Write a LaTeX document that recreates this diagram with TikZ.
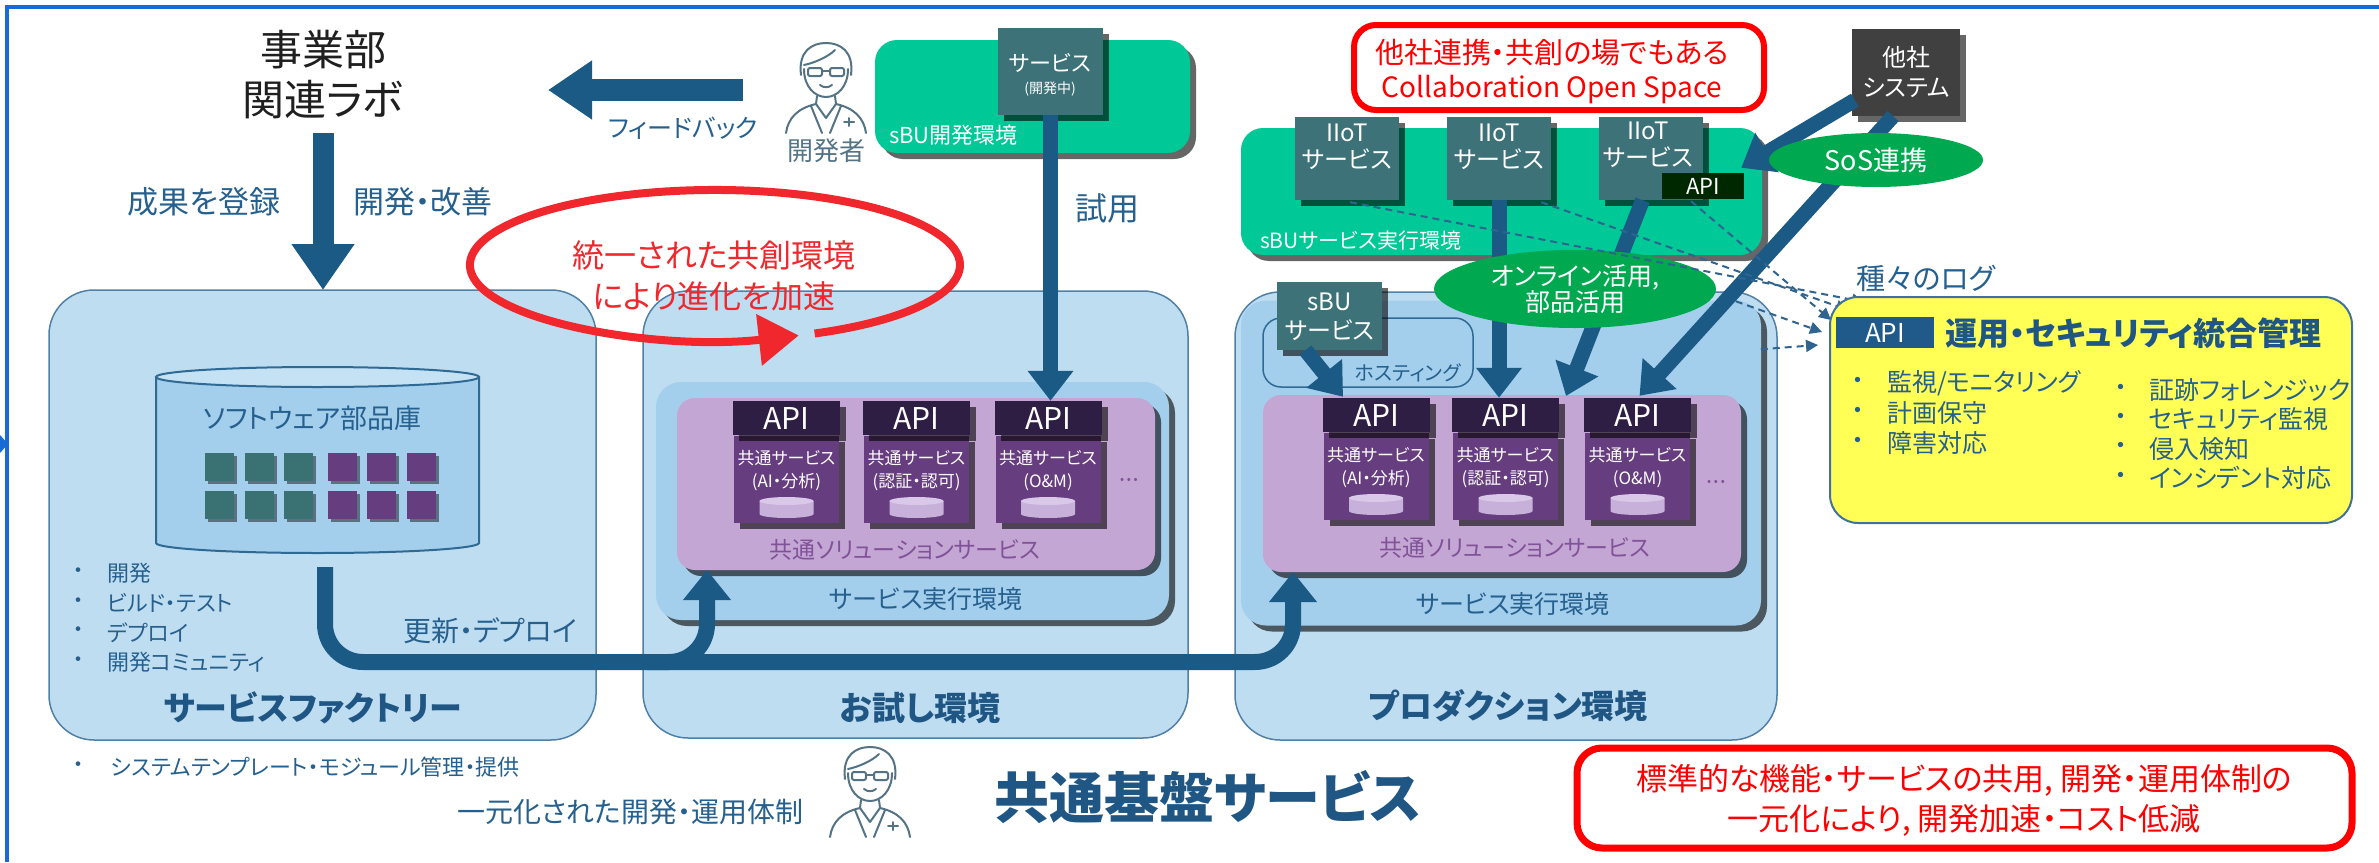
\documentclass[tikz,border=0pt]{standalone}
\usepackage{fontspec}
\setmainfont{Noto Sans CJK JP}[RawFeature=+palt]
\usetikzlibrary{arrows.meta,shapes.geometric,shadows,calc}

\newcommand\fz[2]{\fontsize{#1}{#2}\selectfont}

\definecolor{frameblue}{RGB}{22,108,212}
\definecolor{navy}{RGB}{28,90,134}
\definecolor{navytext}{RGB}{38,96,142}
\definecolor{titleblue}{RGB}{31,86,132}
\definecolor{lightbox}{RGB}{191,221,241}
\definecolor{boxedge}{RGB}{80,128,166}
\definecolor{envblue}{RGB}{163,206,236}
\definecolor{solpurple}{RGB}{196,166,212}
\definecolor{solpurpletext}{RGB}{128,82,152}
\definecolor{apidark}{RGB}{46,30,68}
\definecolor{svcpurple}{RGB}{102,61,126}
\definecolor{cylpurple}{RGB}{199,176,218}
\definecolor{cylpurpletop}{RGB}{217,200,232}
\definecolor{tealbox}{RGB}{60,114,120}
\definecolor{envgreen}{RGB}{0,200,150}
\definecolor{ovalgreen}{RGB}{0,168,80}
\definecolor{darkgraybox}{RGB}{64,64,64}
\definecolor{apigreen}{RGB}{0,40,0}
\definecolor{noteyellow}{RGB}{255,255,85}
\definecolor{yellowedge}{RGB}{65,113,156}
\definecolor{apiblue}{RGB}{31,90,138}
\definecolor{alertred}{RGB}{255,0,0}
\definecolor{loopred}{RGB}{240,40,45}
\definecolor{persongray}{RGB}{84,116,134}
\definecolor{cylblue}{RGB}{163,206,236}
\definecolor{cyltop}{RGB}{197,226,245}
\definecolor{cyledge}{RGB}{47,106,149}
\definecolor{squareteal}{RGB}{58,114,116}
\definecolor{squarepurple}{RGB}{102,61,126}
\definecolor{dashblue}{RGB}{47,100,145}

\tikzset{
  txt/.style={inner sep=0pt, outer sep=0pt, align=center},
  dropsh/.style={drop shadow={shadow xshift=6pt, shadow yshift=-6pt, opacity=0.6, fill=black}},
  smallsh/.style={drop shadow={shadow xshift=3pt, shadow yshift=-3pt, opacity=0.45, fill=black}},
  platform/.style={draw=boxedge, line width=1.5pt, fill=lightbox, rounded corners=45pt, inner sep=0pt},
  boxtitle/.style={txt, font=\fz{33}{40}\bfseries, text=titleblue},
  envbox/.style={fill=envblue, rounded corners=25pt, inner sep=0pt, dropsh},
  envlabel/.style={txt, font=\fz{25}{28}, text=navytext},
  solbox/.style={fill=solpurple, rounded corners=18pt, inner sep=0pt, dropsh},
  sollabel/.style={txt, font=\fz{23}{26}, text=solpurpletext},
  svcbox/.style={fill=svcpurple, minimum width=105pt, minimum height=87pt, inner sep=0pt, dropsh},
  apibox/.style={fill=apidark, minimum width=107pt, minimum height=34pt, inner sep=0pt, text=white, font=\fz{30}{30}, dropsh},
  svctext/.style={txt, text=white, font=\fz{17}{23}},
  tealsvc/.style={fill=tealbox, inner sep=0pt, dropsh},
  greenenv/.style={fill=envgreen, rounded corners=22pt, inner sep=0pt, dropsh},
  whitelabel/.style={txt, text=white},
  redbox/.style={draw=alertred, line width=6pt, fill=white, rounded corners=22pt, inner sep=0pt},
  bigarrow/.style={draw=navy, line width=22pt, -{Triangle[width=56pt,length=44pt]}},
  svcarrow/.style={draw=navy, line width=15pt, -{Triangle[width=44pt,length=30pt]}},
  deploy/.style={draw=navy, line width=16pt, rounded corners=38pt},
  dashlog/.style={draw=dashblue, line width=2pt, dash pattern=on 7pt off 5pt, -{Triangle[width=12pt,length=12pt]}},
  navylabel/.style={txt, text=navytext},
  bulletlabel/.style={txt, anchor=west, text=navytext},
  devicon/.pic={
    \begin{scope}[persongray, line width=2pt, line cap=round, line join=round]
      % face and hair
      \draw (-22,26) .. controls (-22,44) and (-11,54) .. (0,54) .. controls (11,54) and (22,44) .. (22,26);
      \draw (-25,32) .. controls (-28,8) and (-14,0) .. (0,0) .. controls (14,0) and (28,8) .. (25,32);
      \draw (-22,22) .. controls (-12,20) and (2,14) .. (9,7);
      % glasses
      \draw[rounded corners=2pt] (-18,25) rectangle (-4,33);
      \draw[rounded corners=2pt] (4,25) rectangle (18,33);
      \draw (-4,28) -- (4,28);
      % smile
      \draw (-6,42) .. controls (-2,45) and (2,45) .. (6,42);
      % neck and shoulders
      \draw (-9,53) -- (-10,61) .. controls (-28,65) and (-38,75) .. (-40,90);
      \draw (9,53) -- (10,61) .. controls (28,65) and (38,75) .. (40,90);
      % collar, lapels and pen
      \draw (-10,61) -- (0,75) -- (10,61);
      \draw (-15,63) -- (-4,90);
      \draw (15,63) -- (4,90);
      \draw (18,79) -- (28,79);
      \draw (23,75) -- (23,83);
    \end{scope}
  }
}

% small purple data cylinder: centre x, top y
\newcommand\minicyl[2]{%
  \fill[cylpurple] (#1-27,#2+4) -- (#1-27,#2+17)
    arc[start angle=180, end angle=0, x radius=27, y radius=4] -- (#1+27,#2+4) -- cycle;
  \fill[cylpurpletop] (#1,#2+4) ellipse [x radius=27, y radius=4];
}

% API label with its common service below: name, centre x, top y, second text line
\newcommand\apiunit[4]{%
  \node[svcbox] (#1svc) at (#2,#3+78.5) {};
  \node[apibox] (#1) at (#2,#3+17) {API};
  \node[svctext] (#1txt) at (#2,#3+69.5) {共通サービス\\#4};
  \minicyl{#2}{#3+96}
}

\begin{document}
\begin{tikzpicture}[x=1pt,y=-1pt]
\useasboundingbox (0,0) rectangle (2379,862);
\fill[white] (0,0) rectangle (2379,862);

% outer frame
\draw[frameblue, line width=4pt] (2379,7) -- (7,7) -- (7,862);
\fill[frameblue] (0,435) -- (8,444) -- (0,453) -- cycle;

% ---------- three platforms ----------
\node[platform, minimum width=547pt, minimum height=450pt] (factory) at (322.5,515) {};
\node[platform, minimum width=545pt, minimum height=447pt] (trial) at (915.5,514.5) {};
\node[platform, minimum width=542pt, minimum height=448pt] (prod) at (1506,516) {};

\node[boxtitle] (factoryT) at (313,708) {サービスファクトリー};
\node[boxtitle] (trialT) at (920,708) {お試し環境};
\node[boxtitle] (prodT) at (1508,706) {プロダクション環境};

% software parts repository
\fill[cylblue] (156,377) -- (156,543) arc[start angle=180, end angle=0, x radius=161.5, y radius=10] -- (479,377) -- cycle;
\draw[cyledge, line width=2pt] (156,377) -- (156,543) arc[start angle=180, end angle=0, x radius=161.5, y radius=10] -- (479,377);
\filldraw[fill=cyltop, draw=cyledge, line width=2pt] (317.5,377) ellipse [x radius=161.5, y radius=10];
\node[navylabel, font=\fz{27}{30}] (repoL) at (312,418) {ソフトウェア部品庫};
\foreach \x [count=\i] in {219,259,298} {
  \node[fill=squareteal, minimum width=29pt, minimum height=28pt, inner sep=0pt, smallsh] (sqa\i) at (\x,467) {};
  \node[fill=squareteal, minimum width=29pt, minimum height=28pt, inner sep=0pt, smallsh] (sqb\i) at (\x,505) {};
}
\foreach \x [count=\i] in {342.5,381.5,421.5} {
  \node[fill=squarepurple, minimum width=29pt, minimum height=28pt, inner sep=0pt, smallsh] (sqc\i) at (\x,467) {};
  \node[fill=squarepurple, minimum width=29pt, minimum height=28pt, inner sep=0pt, smallsh] (sqd\i) at (\x,505) {};
}

% factory activities
\foreach \t [count=\i] in {開発,ビルド・テスト,デプロイ,開発コミュニティ} {
  \node[navylabel, font=\fz{22}{24}] (fb\i) at (78,{573+29.7*(\i-1)}) {・};
  \node[bulletlabel, font=\fz{22}{24}] (ft\i) at (107,{573+29.7*(\i-1)}) {\t};
}

% ---------- trial environment ----------
\node[envbox, minimum width=513pt, minimum height=238pt] (trialEnv) at (912.5,501) {};
\node[envlabel] (trialEnvL) at (926,599) {サービス実行環境};
\node[solbox, minimum width=478pt, minimum height=172pt] (trialSol) at (916,484) {};
\node[sollabel] (trialSolL) at (905,550) {共通ソリューションサービス};
\apiunit{tA1}{786.5}{401}{(AI・分析)}
\apiunit{tA2}{916.5}{401}{(認証・認可)}
\apiunit{tA3}{1048}{401}{(O\&M)}
\node[txt, font=\fz{12}{12}, text=solpurpletext] (tDots) at (1129,481) {• • •};

% ---------- production environment ----------
\node[envbox, minimum width=520pt, minimum height=325pt] (prodEnv) at (1501,463) {};
\node[envlabel] (prodEnvL) at (1513,604) {サービス実行環境};
\node[draw=cyledge, line width=1.5pt, rounded corners=18pt, minimum width=210pt, minimum height=69pt, inner sep=0pt] (hosting) at (1368,352.5) {};
\node[navylabel, font=\fz{20}{24}] (hostingL) at (1408,373) {ホスティング};
\node[solbox, minimum width=478pt, minimum height=177pt] (prodSol) at (1502,483.5) {};
\node[sollabel] (prodSolL) at (1515,548) {共通ソリューションサービス};
\apiunit{pA1}{1376}{398}{(AI・分析)}
\apiunit{pA2}{1505.5}{398}{(認証・認可)}
\apiunit{pA3}{1637.5}{398}{(O\&M)}
\node[txt, font=\fz{12}{12}, text=solpurpletext] (pDots) at (1716,483) {• • •};

% ---------- update / deploy pipeline ----------
\coordinate (repoOut) at (325,567);
\coordinate (pipe) at (0,662);
\coordinate (trialIn) at (707,570);
\coordinate (prodIn) at (1293,572);
\draw[deploy, -{Triangle[width=46pt,length=30pt]}] (repoOut) -- (repoOut |- pipe) -- (prodIn |- pipe) -- (prodIn);
\draw[deploy, -{Triangle[width=46pt,length=30pt]}] ($(trialIn |- pipe)+(-60,0)$) -- (trialIn |- pipe) -- (trialIn);
\node[navylabel, font=\fz{28}{30}] (deployL) at (490,631) {更新・デプロイ};

% ---------- business unit and feedback ----------
\node[txt, font=\fz{42}{50}, text=black!88] (bizlab) at (323,75) {事業部\\関連ラボ};
\coordinate (fbFrom) at (743,90);
\coordinate (fbTo) at (548,90);
\draw[bigarrow] (fbFrom) -- (fbTo);
\node[navylabel, font=\fz{25}{28}] (fbL) at (683,128) {フィードバック};
\coordinate (regFrom) at (323,133);
\coordinate (regTo) at (323,290);
\draw[draw=navy, line width=21pt, -{Triangle[width=60pt,length=46pt]}] (regFrom) -- (regTo);
\node[navylabel, font=\fz{31}{34}] (regL) at (204,202) {成果を登録};
\node[navylabel, font=\fz{31}{34}] (impL) at (423,202) {開発・改善};

\pic at (826,43) {devicon};
\node[txt, font=\fz{26}{28}, text=persongray] (devL) at (826,151) {開発者};

% ---------- sBU development environment ----------
\node[greenenv, minimum width=315pt, minimum height=113pt] (devEnv) at (1032.5,96.5) {};
\node[whitelabel, anchor=west, font=\fz{22}{24}] (devEnvL) at (889,135) {sBU開発環境};
\node[tealsvc, minimum width=105pt, minimum height=87pt] (devSvc) at (1050.5,71.5) {};
\node[whitelabel, font=\fz{22}{24}] (devSvcL) at (1050,63) {サービス};
\node[whitelabel, font=\fz{14}{16}] (devSvcS) at (1050,89) {(開発中)};
\node[navylabel, font=\fz{32}{34}] (tryL) at (1107,208) {試用};

% ---------- collaboration space ----------
\node[redbox, minimum width=410pt, minimum height=85pt] (collab) at (1559,67.5) {};
\node[txt, text=alertred, font=\fz{28}{34}] (collabL) at (1552,72) {{\fz{29}{34}他社連携・共創の場でもある}\\Collaboration Open Space};

\node[greenenv, minimum width=521pt, minimum height=127pt] (sbuEnv) at (1501.5,191.5) {};
\node[whitelabel, anchor=west, font=\fz{21}{24}] (sbuEnvL) at (1260,241) {sBUサービス実行環境};
\node[tealsvc, minimum width=104pt, minimum height=83pt] (iot1) at (1347,158.5) {};
\node[tealsvc, minimum width=104pt, minimum height=83pt] (iot2) at (1499,158.5) {};
\node[tealsvc, minimum width=104pt, minimum height=83pt] (iot3) at (1650.5,158.5) {};
\node[whitelabel, font=\fz{24}{27}] (iot1L) at (1347,147) {IIoT\\サービス};
\node[whitelabel, font=\fz{24}{27}] (iot2L) at (1499,147) {IIoT\\サービス};
\node[whitelabel, font=\fz{24}{27}] (iot3L) at (1648,145) {IIoT\\サービス};
\node[fill=apigreen, text=white, font=\fz{22}{22}, minimum width=82pt, minimum height=26pt, inner sep=0pt] (iotApi) at (1703,186) {API};

\node[fill=darkgraybox, minimum width=108pt, minimum height=87pt, inner sep=0pt, dropsh] (tasha) at (1906,72.5) {};
\node[whitelabel, font=\fz{24}{30}] (tashaL) at (1906,72) {他社\\システム};

\node[tealsvc, minimum width=105pt, minimum height=68pt] (sbuSvc) at (1329.5,316) {};
\node[whitelabel, font=\fz{24}{29}] (sbuSvcL) at (1329.5,316.5) {sBU\\サービス};

% ---------- service connectors ----------
\draw[svcarrow] (devSvc.south) -- (devSvc.south |- tA3.north);
\draw[svcarrow] (iot2.south) -- (iot2.south |- pA2.north);
\coordinate (pJoin) at (1566,396);
\draw[svcarrow] ($(iot3.south)+(-8,0)$) -- (pJoin);
\draw[svcarrow] ($(tasha.south)+(-13,0)$) -- ($(pA3.north)+(2,-2)$);
\draw[svcarrow] ($(tasha.south west)+(3,-16)$) -- ($(iotApi.north east)+(-3,-5)$);
\draw[svcarrow] ($(sbuSvc.south)+(-24,0)$) -- ($(pA1.north)+(-33,-1)$);

% ---------- usage ovals ----------
\node[ellipse, fill=ovalgreen, minimum width=214pt, minimum height=54pt, inner sep=0pt, text=white, font=\fz{27}{27}] (sos) at (1876,160) {SoS連携};
\node[ellipse, fill=ovalgreen, minimum width=282pt, minimum height=78pt, inner sep=0pt, text=white, font=\fz{25}{24}, align=center] (online) at (1575,289) {オンライン活用,\\部品活用};

% ---------- log collection ----------
\coordinate (logA) at (1864,302);
\coordinate (logB) at (1848,310);
\coordinate (logC) at (1831,320);
\coordinate (logD) at (1822,332);
\coordinate (logE) at (1818,345);
\draw[dashlog] ($(iot1.south)+(3,2)$) -- (logA);
\draw[dashlog] ($(iot2.south east)+(-10,2)$) -- (logB);
\draw[dashlog] ($(iotApi.south)+(-12,2)$) -- (logC);
\draw[dashlog] ($(prod.north east)+(-42,10)$) -- (logD);
\draw[dashlog] ($(prod.north east)+(-17,58)$) -- (logE);
\node[navylabel, font=\fz{29}{32}] (logL) at (1926,278) {種々のログ};

% ---------- operations and security management ----------
\node[draw=yellowedge, line width=2pt, fill=noteyellow, rounded corners=28pt, minimum width=522pt, minimum height=226pt, inner sep=0pt] (ops) at (2091,410) {};
\node[fill=apiblue, text=white, font=\fz{26}{26}, minimum width=98pt, minimum height=31pt, inner sep=0pt] (opsApi) at (1885,332.5) {API};
\node[txt, anchor=west, font=\fz{32}{32}\bfseries, text=titleblue] (opsT) at (1945,333) {運用・セキュリティ統合管理};
\foreach \t [count=\i] in {監視/モニタリング,計画保守,障害対応} {
  \node[navylabel, font=\fz{25}{28}] (ob\i) at (1858,{383+30*(\i-1)}) {・};
  \node[bulletlabel, font=\fz{25}{28}] (ot\i) at (1887,{383+30*(\i-1)}) {\t};
}
\foreach \t [count=\i] in {証跡フォレンジック,セキュリティ監視,侵入検知,インシデント対応} {
  \node[navylabel, font=\fz{25}{28}] (sb\i) at (2121,{390+29.4*(\i-1)}) {・};
  \node[bulletlabel, font=\fz{25}{28}] (st\i) at (2149,{390+29.4*(\i-1)}) {\t};
}

% ---------- evolution loop ----------
\draw[loopred, line width=8pt, -{Triangle[width=50pt,length=40pt]}] (814.6,333.5) arc[start angle=66, end angle=-290, x radius=245, y radius=75];
\node[txt, text=loopred, font=\fz{32}{41}] (loopL) at (714,276) {統一された共創環境\\により進化を加速};

% ---------- bottom ----------
\node[navylabel, font=\fz{22}{24}] (tplB) at (78,767) {・};
\node[bulletlabel, font=\fz{22}{24}] (tplL) at (111,767) {システムテンプレート・モジュール管理・提供};
\node[navylabel, anchor=east, font=\fz{28}{30}] (unifiedL) at (803,812) {一元化された開発・運用体制};
\pic at (870,747) {devicon};
\node[txt, font=\fz{55}{58}\bfseries, text=titleblue] (kiban) at (1208,797) {共通基盤サービス};
\node[redbox, line width=7pt, rounded corners=25pt, minimum width=775pt, minimum height=100pt] (benefit) at (1964.5,798) {};
\node[txt, text=alertred, font=\fz{31}{40}] (benefitL) at (1964,800) {標準的な機能・サービスの共用, 開発・運用体制の\\一元化により, 開発加速・コスト低減};
\end{tikzpicture}
\end{document}
